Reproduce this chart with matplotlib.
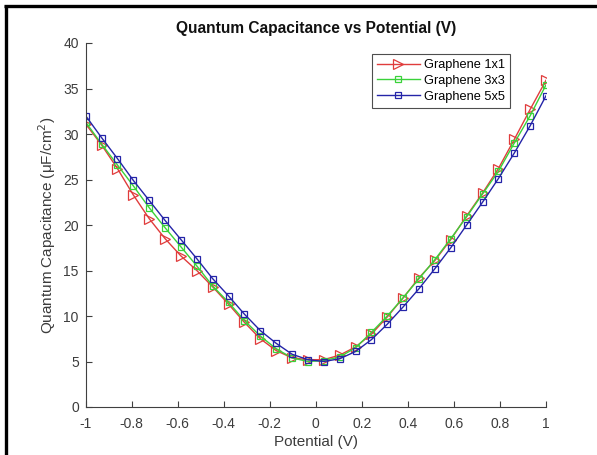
import numpy as np
import matplotlib
matplotlib.use("Agg")
import matplotlib.pyplot as plt
from matplotlib.lines import Line2D

plt.rcParams['font.family'] = ['Liberation Sans', 'DejaVu Sans']

potential = np.linspace(-1, 1, 30)

g1x1 = [31.1, 28.8, 26.2, 23.3, 20.7, 18.5, 16.6, 15.0, 13.2, 11.3,
        9.3, 7.5, 6.2, 5.4, 5.2, 5.2, 5.7, 6.6, 8.0, 9.9,
        12.0, 14.2, 16.1, 18.4, 21.0, 23.5, 26.2, 29.4, 32.7, 35.9]
g3x3 = [31.3, 28.9, 26.6, 24.3, 21.9, 19.7, 17.6, 15.5, 13.3, 11.5,
        9.5, 7.8, 6.4, 5.4, 5.0, 5.1, 5.5, 6.5, 8.2, 10.0,
        12.0, 14.1, 16.2, 18.5, 20.9, 23.4, 25.9, 29.0, 32.0, 35.4]
g5x5 = [32.0, 29.6, 27.3, 24.9, 22.7, 20.5, 18.4, 16.3, 14.1, 12.2,
        10.2, 8.4, 7.0, 5.8, 5.2, 5.0, 5.3, 6.1, 7.4, 9.1,
        11.0, 13.0, 15.2, 17.5, 20.0, 22.5, 25.1, 27.9, 30.9, 34.2]

xticks = [-1, -0.8, -0.6, -0.4, -0.2, 0, 0.2, 0.4, 0.6, 0.8, 1]
xticklabels = ['-1', '-0.8', '-0.6', '-0.4', '-0.2', '0', '0.2', '0.4', '0.6', '0.8', '1']
yticks = [0, 5, 10, 15, 20, 25, 30, 35, 40]

W, H = 597, 455
fig = plt.figure(figsize=(W/100, H/100), dpi=100)
ax = fig.add_axes([85.7/W, 1-407/H, (546-85.7)/W, (407-43)/H])

axc = '#404040'
ax.plot(potential, g1x1, color='#e03c3c', lw=1.0, marker='>', ms=7.5,
        mfc='none', mec='#e03c3c', mew=0.9, label='Graphene 1x1')
ax.plot(potential, g3x3, color='#3ad23a', lw=1.0, marker='s', ms=4.2,
        mfc='none', mec='#3ad23a', mew=0.9, label='Graphene 3x3')
ax.plot(potential, g5x5, color='#2424a8', lw=1.0, marker='s', ms=4.8,
        mfc='none', mec='#2424a8', mew=0.9, label='Graphene 5x5')

ax.set_xlim(-1, 1)
ax.set_ylim(0, 40)
ax.set_xticks(xticks)
ax.set_xticklabels(xticklabels)
ax.set_yticks(yticks)
for s in ['top', 'right']:
    ax.spines[s].set_visible(False)
for s in ['left', 'bottom']:
    ax.spines[s].set_color(axc)
    ax.spines[s].set_linewidth(0.8)
ax.tick_params(direction='in', length=4, width=0.8, color=axc,
               labelcolor='#3c3c3c', labelsize=10)
ax.tick_params(axis='x', pad=7)
ax.tick_params(axis='y', pad=5)

ax.set_xlabel('Potential (V)', fontsize=11, color='#3c3c3c', labelpad=3)
ax.set_ylabel('Quantum Capacitance (μF/cm$^2$)', fontsize=11, color='#3c3c3c', labelpad=4)
ax.set_title('Quantum Capacitance vs Potential (V)', fontsize=11.2,
             fontweight='bold', color='#111111', pad=7)

leg = ax.legend(loc='upper right', bbox_to_anchor=(0.922, 0.97), fontsize=9.2,
                frameon=True, fancybox=False, edgecolor='#222222',
                handlelength=3.3, borderpad=0.4, labelspacing=0.3,
                handletextpad=0.35, borderaxespad=0)
leg.get_frame().set_linewidth(0.8)

# outer border (left and top)
fig.add_artist(Line2D([5.5/W, 5.5/W], [0, 1-5/H], transform=fig.transFigure,
                      color='black', lw=2.4, solid_capstyle='butt'))
fig.add_artist(Line2D([4/W, 1], [1-6/H, 1-6/H], transform=fig.transFigure,
                      color='black', lw=2.4, solid_capstyle='butt'))

fig.savefig('out.png', dpi=100)
